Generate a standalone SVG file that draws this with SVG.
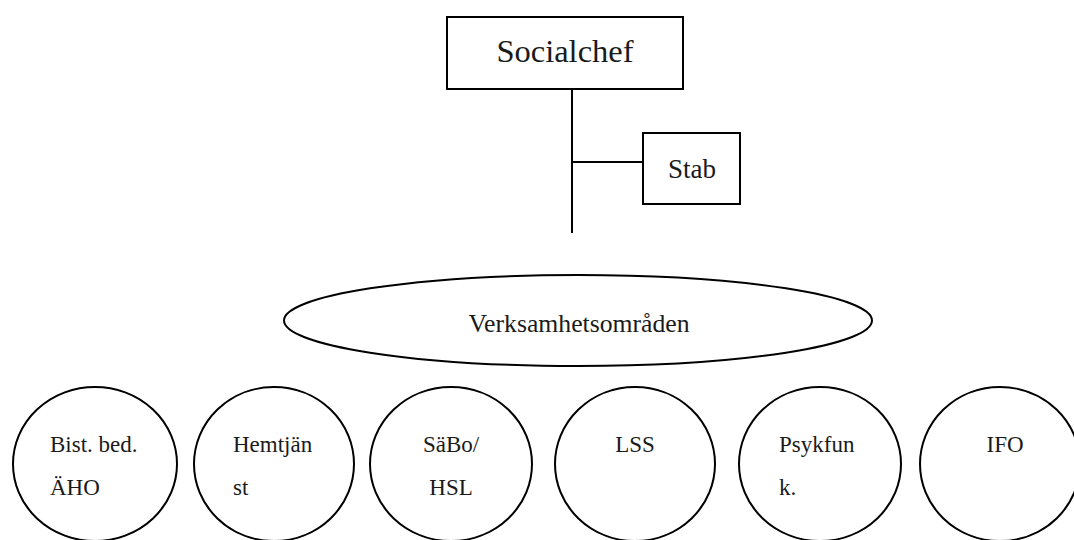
<svg xmlns="http://www.w3.org/2000/svg" width="1074" height="540" viewBox="0 0 1074 540">
<style>
.shape{fill:#ffffff;stroke:#000000;stroke-width:2}
.conn{stroke:#000000;stroke-width:2;fill:none}
.c{text-anchor:middle}
.s{font-size:23px}
</style>
<rect width="1074" height="540" fill="#ffffff"/>
<g id="connectors">
<line class="conn" x1="572" y1="89" x2="572" y2="233"/>
<line class="conn" x1="572" y1="162" x2="643" y2="162"/>
</g>
<g font-family="'Liberation Serif', 'Times New Roman', 'DejaVu Serif', serif" fill="#1a1a1a">
<g id="socialchef">
<rect class="shape" x="447" y="17" width="236" height="72"/>
<text class="c" x="565" y="62" font-size="32.5">Socialchef</text>
</g>
<g id="stab">
<rect class="shape" x="643" y="133" width="97" height="71"/>
<text class="c" x="692" y="178" font-size="27">Stab</text>
</g>
<g id="verksamhetsomraden">
<ellipse class="shape" cx="578" cy="320.5" rx="294" ry="45.5"/>
<text class="c" x="579" y="332" font-size="25.7">Verksamhetsområden</text>
</g>
<g id="bist">
<ellipse class="shape" cx="95" cy="464" rx="82" ry="77"/>
<text class="s" x="50" y="452">Bist. bed.</text>
<text class="s" x="50" y="495">ÄHO</text>
</g>
<g id="hemtjanst">
<ellipse class="shape" cx="274" cy="464" rx="80" ry="77"/>
<text class="s" x="233" y="452">Hemtjän</text>
<text class="s" x="233" y="495">st</text>
</g>
<g id="sabo">
<ellipse class="shape" cx="451" cy="464" rx="81" ry="77"/>
<text class="s c" x="451" y="452">SäBo/</text>
<text class="s c" x="451" y="495">HSL</text>
</g>
<g id="lss">
<ellipse class="shape" cx="635" cy="464" rx="80" ry="77"/>
<text class="s c" x="635" y="452">LSS</text>
</g>
<g id="psykfunk">
<ellipse class="shape" cx="820" cy="464" rx="81" ry="77"/>
<text class="s" x="779" y="452">Psykfun</text>
<text class="s" x="779" y="495">k.</text>
</g>
<g id="ifo">
<ellipse class="shape" cx="1000" cy="464" rx="80" ry="77"/>
<text class="s c" x="1005" y="452">IFO</text>
</g>
</g>
</svg>
